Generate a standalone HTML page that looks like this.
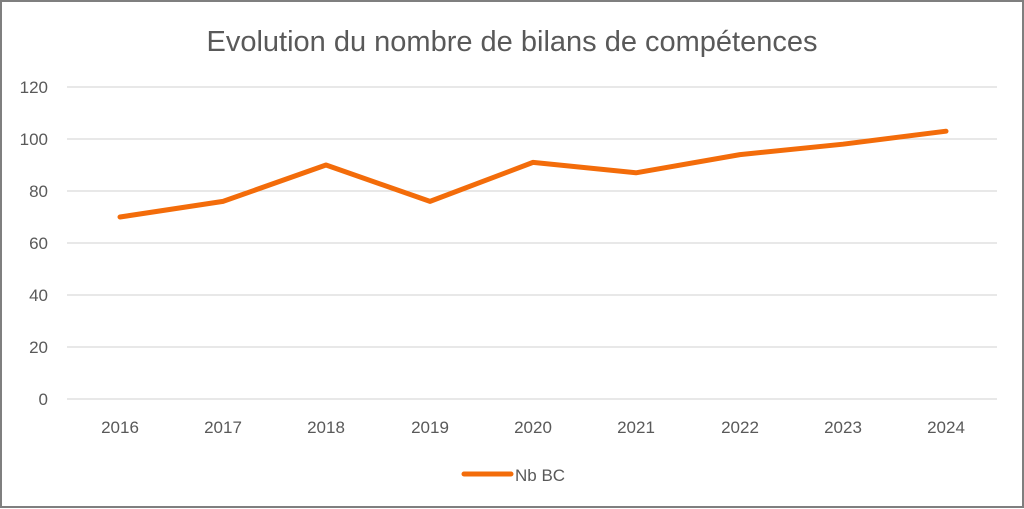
<!DOCTYPE html>
<html><head><style>
html,body{margin:0;padding:0;background:#fff}
svg{display:block}
text{font-family:"Liberation Sans",sans-serif;fill:#595959}
</style></head><body>
<svg width="1024" height="509" viewBox="0 0 1024 509">
<rect x="1" y="1" width="1022" height="506" fill="#fff" stroke="#7f7f7f" stroke-width="2"/>
<text x="512" y="51" font-size="29" text-anchor="middle">Evolution du nombre de bilans de compétences</text>
<g stroke="#d9d9d9" stroke-width="1.3">
<line x1="67" x2="997" y1="87" y2="87"/>
<line x1="67" x2="997" y1="139" y2="139"/>
<line x1="67" x2="997" y1="191" y2="191"/>
<line x1="67" x2="997" y1="243" y2="243"/>
<line x1="67" x2="997" y1="295" y2="295"/>
<line x1="67" x2="997" y1="347" y2="347"/>
<line x1="67" x2="997" y1="399" y2="399"/>
</g>
<g font-size="17" text-anchor="end">
<text x="48" y="93">120</text>
<text x="48" y="145">100</text>
<text x="48" y="197">80</text>
<text x="48" y="249">60</text>
<text x="48" y="301">40</text>
<text x="48" y="353">20</text>
<text x="48" y="405">0</text>
</g>
<g font-size="17" text-anchor="middle">
<text x="120" y="433">2016</text>
<text x="223" y="433">2017</text>
<text x="326" y="433">2018</text>
<text x="430" y="433">2019</text>
<text x="533" y="433">2020</text>
<text x="636" y="433">2021</text>
<text x="740" y="433">2022</text>
<text x="843" y="433">2023</text>
<text x="946" y="433">2024</text>
</g>
<polyline fill="none" stroke="#f36c0a" stroke-width="5" stroke-linejoin="round" stroke-linecap="round"
points="120,217 223,201.4 326,165 430,201.4 533,162.4 636,172.8 740,154.6 843,144.2 946,131.2"/>
<line x1="464" x2="511" y1="474" y2="474" stroke="#f36c0a" stroke-width="5" stroke-linecap="round"/>
<text x="515" y="481" font-size="17">Nb BC</text>
</svg>
</body></html>
